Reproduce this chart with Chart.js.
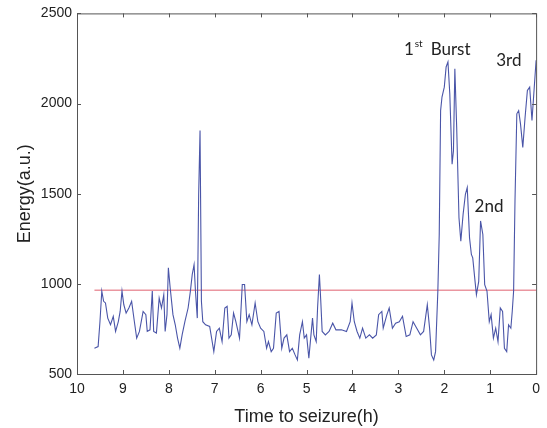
<!DOCTYPE html>
<html>
<head>
<meta charset="utf-8">
<script src="https://cdn.jsdelivr.net/npm/chart.js@4.4.0/dist/chart.umd.min.js"></script>
<style>
  html, body { margin: 0; padding: 0; background: #fff; }
  #wrap { width: 547px; height: 428px; }
</style>
</head>
<body>
<div id="wrap"><canvas id="energyChart" width="547" height="428"></canvas></div>
<script>
// hours before seizure (axis runs 10 -> 0)
const timeH = [
  9.62, 9.54, 9.50, 9.46, 9.42, 9.38, 9.33, 9.27, 9.21, 9.16, 9.10, 9.06, 9.02, 8.98, 8.93, 8.87,
  8.81, 8.75, 8.70, 8.64, 8.56, 8.50, 8.47, 8.41, 8.36, 8.33, 8.27, 8.21, 8.16, 8.11, 8.08, 8.04,
  8.01, 7.97, 7.91, 7.86, 7.81, 7.76, 7.71, 7.65, 7.58, 7.53, 7.49, 7.45, 7.42, 7.38, 7.35, 7.32,
  7.29, 7.26, 7.20, 7.11, 7.02, 6.96, 6.90, 6.84, 6.78, 6.73, 6.69, 6.64, 6.59, 6.54, 6.46, 6.40,
  6.35, 6.30, 6.25, 6.19, 6.12, 6.06, 6.00, 5.93, 5.87, 5.83, 5.77, 5.72, 5.66, 5.60, 5.54, 5.49,
  5.43, 5.37, 5.31, 5.25, 5.20, 5.15, 5.09, 5.05, 5.00, 4.95, 4.91, 4.87, 4.84, 4.79, 4.76, 4.72,
  4.69, 4.66, 4.59, 4.51, 4.43, 4.36, 4.24, 4.13, 4.05, 4.01, 3.96, 3.90, 3.84, 3.78, 3.71, 3.63,
  3.56, 3.48, 3.43, 3.36, 3.33, 3.25, 3.20, 3.13, 3.06, 2.98, 2.91, 2.83, 2.75, 2.68, 2.60, 2.52,
  2.45, 2.37, 2.32, 2.28, 2.23, 2.19, 2.14, 2.11, 2.08, 2.05, 2.00, 1.96, 1.92, 1.88, 1.83, 1.80,
  1.77, 1.73, 1.68, 1.64, 1.59, 1.54, 1.50, 1.45, 1.41, 1.38, 1.33, 1.30, 1.25, 1.21, 1.16, 1.12,
  1.07, 1.02, 0.98, 0.93, 0.88, 0.83, 0.78, 0.73, 0.69, 0.64, 0.60, 0.55, 0.52, 0.49, 0.46, 0.42,
  0.38, 0.34, 0.29, 0.24, 0.19, 0.14, 0.09, 0.05, 0.00
];

// energy (a.u.)
const energy = [
  643, 652, 790, 960, 903, 894, 810, 773, 820, 736, 791, 847, 960, 884, 838, 866,
  903, 790, 699, 736, 847, 829, 736, 745, 960, 736, 727, 921, 866, 940, 736, 829,
  1089, 977, 829, 773, 699, 643, 717, 790, 866, 960, 1052, 1107, 960, 810, 1497, 1850,
  903, 790, 773, 764, 624, 736, 754, 680, 866, 875, 699, 717, 838, 790, 699, 996,
  996, 790, 829, 773, 894, 790, 754, 736, 643, 680, 624, 643, 838, 847, 643, 699,
  717, 624, 643, 606, 578, 717, 790, 699, 717, 587, 699, 810, 717, 680, 866, 1052,
  903, 736, 717, 736, 782, 745, 745, 736, 790, 894, 790, 736, 699, 754, 699, 717,
  699, 717, 829, 847, 754, 829, 866, 754, 782, 790, 820, 708, 717, 790, 754, 717,
  736, 884, 754, 606, 578, 624, 960, 1274, 1961, 2036, 2091, 2203, 2231, 2054, 1664, 1739,
  2193, 1869, 1367, 1237, 1386, 1497, 1534, 1255, 1163, 1144, 1014, 940, 1014, 1349, 1274, 996,
  960, 790, 829, 699, 754, 680, 866, 847, 643, 624, 773, 754, 847, 960, 1460, 1943,
  1961, 1887, 1757, 1924, 2073, 2091, 1906, 2054, 2240
];

const thresholdLevel = 965;
const thresholdSpan = [9.62, 0];

const xTicks = [10, 9, 8, 7, 6, 5, 4, 3, 2, 1, 0];
const yTicks = [500, 1000, 1500, 2000, 2500];

// burst labels: [text, superscript, rest, x (h) of left edge, y (a.u.)]
const burstLabels = [
  ["1", "st", "Burst", 2.88, 2300],
  ["3rd", "", "", 0.87, 2240],
  ["2nd", "", "", 1.34, 1430]
];

const traceData = timeH.map((t, i) => ({ x: t, y: energy[i] }));
const thresholdData = thresholdSpan.map(t => ({ x: t, y: thresholdLevel }));

const labelFont = "17px Lato, 'Open Sans', sans-serif";

// box frame + burst labels
const framePlugin = {
  id: "frame",
  afterDraw(chart) {
    const { ctx, chartArea: a, scales } = chart;
    ctx.save();
    ctx.strokeStyle = "#555";
    ctx.lineWidth = 1;
    ctx.strokeRect(a.left + 0.5, a.top + 0.5, a.right - a.left, a.bottom - a.top);
    // inward ticks on all edges (matlab style)
    xTicks.forEach(v => {
      const px = Math.round(scales.x.getPixelForValue(v)) + 0.5;
      ctx.beginPath();
      ctx.moveTo(px, a.top); ctx.lineTo(px, a.top + 4);
      ctx.moveTo(px, a.bottom); ctx.lineTo(px, a.bottom - 4);
      ctx.stroke();
    });
    yTicks.forEach(v => {
      const py = Math.round(scales.y.getPixelForValue(v)) + 0.5;
      ctx.beginPath();
      ctx.moveTo(a.left, py); ctx.lineTo(a.left + 4, py);
      ctx.moveTo(a.right, py); ctx.lineTo(a.right - 4, py);
      ctx.stroke();
    });
    ctx.fillStyle = "#222";
    ctx.textBaseline = "middle";
    ctx.textAlign = "left";
    burstLabels.forEach(([main, sup, rest, t, v]) => {
      let px = scales.x.getPixelForValue(t);
      const py = scales.y.getPixelForValue(v);
      ctx.font = labelFont;
      ctx.fillText(main, px, py);
      px += ctx.measureText(main).width;
      if (sup) {
        ctx.font = "10px Lato, sans-serif";
        ctx.fillText(sup, px + 1, py - 6);
        px += ctx.measureText(sup).width + 9;
      }
      if (rest) {
        ctx.font = labelFont;
        ctx.fillText(rest, px, py);
      }
    });
    ctx.restore();
  }
};

const tickFont = { family: "'Liberation Sans', Arial, sans-serif", size: 14 };
const titleFont = { family: "'Liberation Sans', Arial, sans-serif", size: 18 };

new Chart(document.getElementById("energyChart"), {
  type: "line",
  data: {
    datasets: [
      {
        label: "Energy",
        data: traceData,
        borderColor: "#4a55a8",
        borderWidth: 1.1,
        pointRadius: 0,
        tension: 0
      },
      {
        label: "Threshold",
        data: thresholdData,
        borderColor: "#e06070",
        borderWidth: 1,
        pointRadius: 0
      }
    ]
  },
  options: {
    responsive: false,
    animation: false,
    layout: { padding: { top: 12, right: 9, left: 0, bottom: 0 } },
    plugins: {
      legend: { display: false },
      tooltip: { enabled: false }
    },
    scales: {
      x: {
        type: "linear",
        reverse: true,
        min: 0,
        max: 10,
        afterBuildTicks: s => { s.ticks = xTicks.map(v => ({ value: v })); },
        grid: { display: false, drawTicks: false },
        border: { display: true, color: "#555" },
        ticks: {
          color: "#222",
          font: tickFont,
          padding: 7,
          maxRotation: 0,
          callback: v => String(v)
        },
        title: {
          display: true,
          text: "Time to seizure(h)",
          color: "#222",
          font: titleFont,
          padding: { top: 0, bottom: 0 }
        },
        afterFit: s => { s.height = 54; }
      },
      y: {
        min: 500,
        max: 2500,
        afterBuildTicks: s => { s.ticks = yTicks.map(v => ({ value: v })); },
        grid: { display: false, drawTicks: false },
        border: { display: true, color: "#555" },
        ticks: {
          color: "#222",
          font: tickFont,
          padding: 5,
          callback: v => String(v)
        },
        title: {
          display: true,
          text: "Energy(a.u.)",
          color: "#222",
          font: titleFont,
          padding: { top: 14, bottom: 0 }
        },
        afterFit: s => { s.width = 77; }
      }
    }
  },
  plugins: [framePlugin]
});
</script>
</body>
</html>
